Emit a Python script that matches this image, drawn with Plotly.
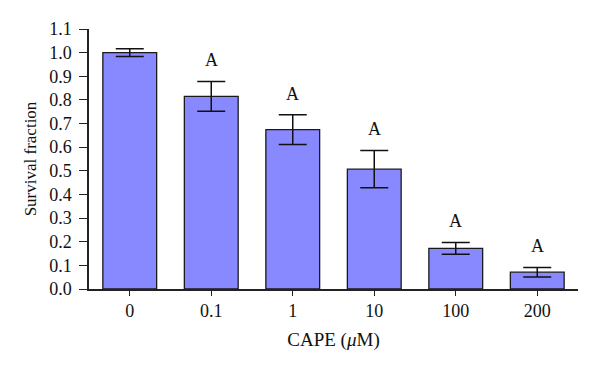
import plotly.graph_objects as go

categories = ["0", "0.1", "1", "10", "100", "200"]
survival = [1.0, 0.815, 0.674, 0.507, 0.172, 0.071]
errors = [0.016, 0.063, 0.063, 0.079, 0.025, 0.020]
labels = ["", "A", "A", "A", "A", "A"]
y_ticks = [0.0, 0.1, 0.2, 0.3, 0.4, 0.5, 0.6, 0.7, 0.8, 0.9, 1.0, 1.1]

FONT = "Liberation Serif"

fig = go.Figure()
fig.add_trace(go.Bar(
    x=list(range(len(categories))), y=survival,
    width=0.66,
    marker=dict(color="#8888FF", line=dict(color="#1a1a1a", width=1.3)),
    error_y=dict(type="data", array=errors, visible=True, color="#111111",
                 thickness=1.5, width=14),
))

for i, (v, e, t) in enumerate(zip(survival, errors, labels)):
    if t:
        fig.add_annotation(x=i, y=v + e, text=t, showarrow=False,
                           yanchor="bottom", yshift=9,
                           font=dict(family=FONT, size=18, color="#111111"))

# page body has an 8px default margin, so the figure is sized/placed to compensate
fig.update_layout(
    width=592, height=366,
    margin=dict(l=81, r=22, t=21, b=85),
    plot_bgcolor="white", paper_bgcolor="white",
    showlegend=False,
    font=dict(family=FONT, size=18, color="#111111"),
)
fig.update_xaxes(
    range=[-0.5, 5.5], automargin=False,
    tickvals=list(range(len(categories))), ticktext=categories,
    showline=True, linecolor="#222222", linewidth=1.5,
    ticks="outside", ticklen=5, tickwidth=1.3, tickcolor="#222222",
    showgrid=False, zeroline=False,
    title=dict(text="CAPE (<i>μ</i>M)", font=dict(family=FONT, size=19), standoff=12),
    tickfont=dict(family=FONT, size=18),
)
fig.update_yaxes(
    range=[0, 1.1], automargin=False,
    tickvals=y_ticks, ticktext=[f"{v:.1f}" for v in y_ticks],
    showline=True, linecolor="#222222", linewidth=1.5,
    ticks="outside", ticklen=8, tickwidth=1.3, tickcolor="#222222",
    showgrid=False, zeroline=False, ticklabelstandoff=4,
    title=dict(text="Survival fraction", font=dict(family=FONT, size=17), standoff=8),
    tickfont=dict(family=FONT, size=18),
)

fig.write_html("out.html")
